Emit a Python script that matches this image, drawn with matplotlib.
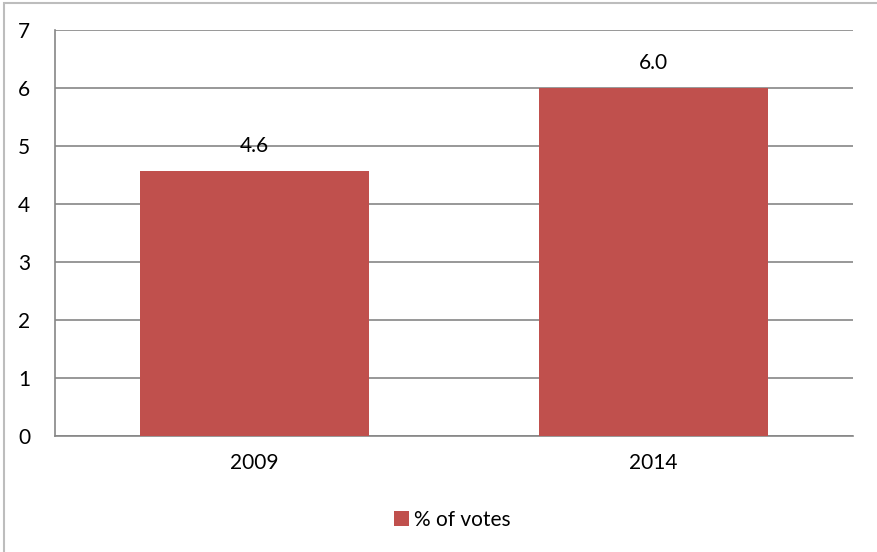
import matplotlib.pyplot as plt
from matplotlib.patches import Rectangle

years = ['2009', '2014']
votes = [4.57, 6.0]
value_labels = ['4.6', '6.0']
series_name = '% of votes'

plt.rcParams['font.family'] = ['Lato', 'DejaVu Sans']

fig = plt.figure(figsize=(8.77, 5.52), dpi=100)
ax = fig.add_axes([55 / 877, 1 - 436 / 552, 798 / 877, 406 / 552])

bar_color = '#C0504D'
x = range(len(years))
ax.bar(x, votes, width=0.575, color=bar_color, label=series_name, zorder=3)

for xi, v, lab in zip(x, votes, value_labels):
    ax.annotate(lab, (xi, v), xytext=(0, 11), textcoords='offset points',
                ha='center', va='bottom', fontsize=15)

ax.set_xlim(-0.5, 1.5)
ax.set_ylim(0, 7)
ax.set_yticks(range(8))
ax.set_xticks(list(x))
ax.set_xticklabels(years)
ax.grid(axis='y', color='#868686', linewidth=1.2, zorder=0)
ax.tick_params(axis='both', length=0, labelsize=15)
ax.tick_params(axis='y', pad=18)
ax.tick_params(axis='x', pad=12)

for side in ['top', 'right']:
    ax.spines[side].set_visible(False)
ax.spines['left'].set_color('#868686')
ax.spines['bottom'].set_color('#868686')
ax.spines['left'].set_linewidth(1.2)
ax.spines['bottom'].set_linewidth(1.2)

ax.legend(loc='center', bbox_to_anchor=(452 / 877, 1 - 520 / 552),
          bbox_transform=fig.transFigure, frameon=False, fontsize=15,
          handlelength=0.75, handleheight=0.75, handletextpad=0.2)

# outer chart border (cropped on the right and bottom)
fig.patches.append(Rectangle((4 / 877, -0.05), 1.0, 1 - 3 / 552 + 0.05,
                             transform=fig.transFigure, fill=False,
                             edgecolor='#BDBDBD', linewidth=1.5))

fig.savefig('out.png', dpi=100)
